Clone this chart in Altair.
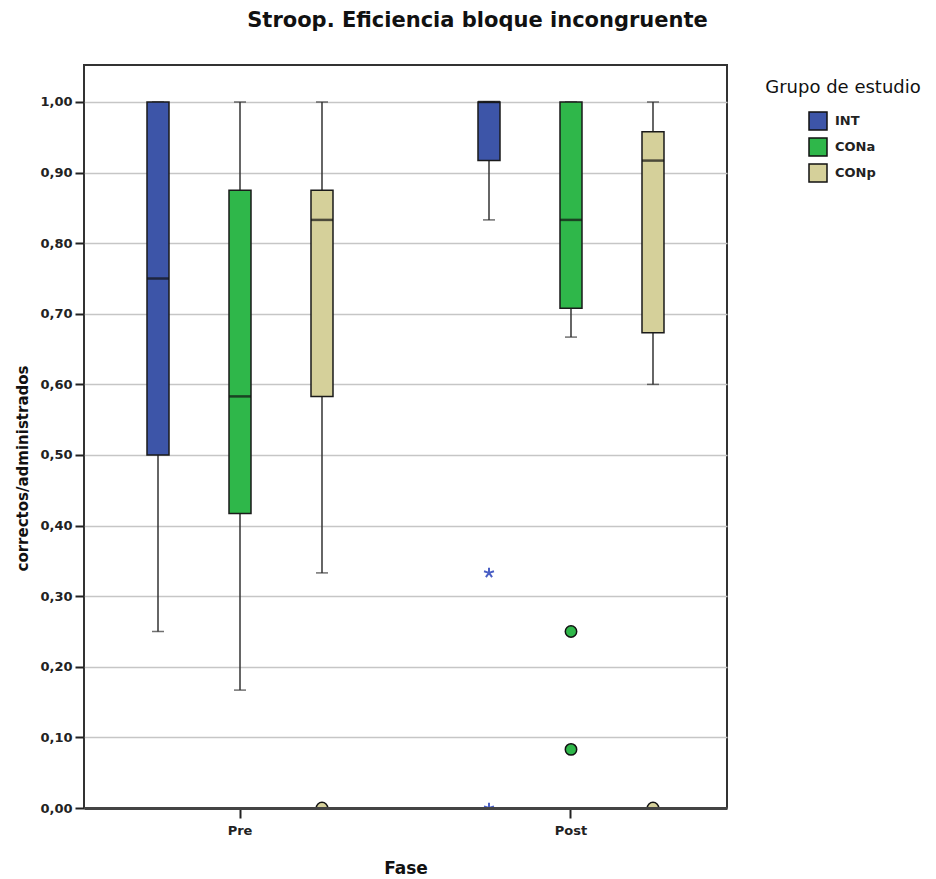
import altair as alt
import pandas as pd

# ---- data ----
fases = ["Pre", "Pre", "Pre", "Post", "Post", "Post"]
grupos = ["INT", "CONa", "CONp", "INT", "CONa", "CONp"]
mins = [0.25, 0.167, 0.333, 0.833, 0.667, 0.600]
q1s = [0.50, 0.417, 0.583, 0.917, 0.708, 0.673]
medianas = [0.75, 0.583, 0.833, 1.00, 0.833, 0.917]
q3s = [1.00, 0.875, 0.875, 1.00, 1.00, 0.958]
maxs = [1.00, 1.00, 1.00, 1.00, 1.00, 1.00]

out_fase = ["Pre", "Post", "Post", "Post", "Post", "Post"]
out_grupo = ["CONp", "INT", "INT", "CONa", "CONa", "CONp"]
out_valor = [0.0, 0.333, 0.0, 0.25, 0.083, 0.0]
out_tipo = ["circulo", "estrella", "estrella", "circulo", "circulo", "circulo"]

orden_fase = ["Pre", "Post"]
orden_grupo = ["INT", "CONa", "CONp"]
colores = ["#3d55a8", "#2fb74a", "#d5d09a"]
y_ticks = [0.0, 0.1, 0.2, 0.3, 0.4, 0.5, 0.6, 0.7, 0.8, 0.9, 1.0]

titulo = "Stroop. Eficiencia bloque incongruente"
titulo_y = "correctos/administrados"
titulo_x = "Fase"
titulo_leyenda = "Grupo de estudio"

box_df = pd.DataFrame({"Fase": fases, "Grupo": grupos, "min": mins, "q1": q1s,
                       "mediana": medianas, "q3": q3s, "max": maxs})
out_df = pd.DataFrame({"Fase": out_fase, "Grupo": out_grupo, "valor": out_valor, "tipo": out_tipo})

FONT = "DejaVu Sans"
W, H = 643, 743

x_enc = alt.X("Fase:N", sort=orden_fase,
              scale=alt.Scale(paddingInner=0.0574, paddingOuter=0),
              axis=alt.Axis(title=titulo_x, labelAngle=0, labelFont=FONT, labelFontWeight="bold",
                            labelFontSize=13, labelColor="#222", labelPadding=6,
                            tickSize=10, tickWidth=2, tickColor="#222",
                            domain=True, domainColor="#444", domainWidth=3, zindex=1,
                            grid=False,
                            titleFont=FONT, titleFontWeight="bold", titleFontSize=17,
                            titleColor="#111", titleY=60, titleBaseline="middle"))
xo = alt.XOffset("Grupo:N", sort=orden_grupo,
                 scale=alt.Scale(paddingInner=0, paddingOuter=0.4025))

y_scale = alt.Scale(domain=[0, 1.0524], nice=False, zero=False)
y_axis = alt.Axis(values=y_ticks, labelExpr="replace(format(datum.value, '.2f'), '.', ',')",
                  labelFont=FONT, labelFontWeight="bold", labelFontSize=13, labelColor="#222",
                  labelPadding=3, tickSize=9, tickWidth=2, tickColor="#222",
                  domain=False, grid=True, gridColor="#c6c6c6", gridWidth=1.5,
                  title=titulo_y, titleFont=FONT, titleFontWeight="bold", titleFontSize=15,
                  titleColor="#111", titleX=-62, titleY=403, titleBaseline="middle")

color_scale = alt.Scale(domain=orden_grupo, range=colores)

base = alt.Chart(box_df)

whisk_low = base.mark_rule(color="#333", strokeWidth=1.5).encode(
    x=x_enc, xOffset=xo, y=alt.Y("min:Q", scale=y_scale, axis=y_axis), y2="q1:Q")
whisk_high = base.mark_rule(color="#333", strokeWidth=1.5).encode(
    x=x_enc, xOffset=xo, y=alt.Y("q3:Q", scale=y_scale), y2="max:Q")
cap_low = base.mark_tick(size=12, thickness=1.5, color="#333").encode(
    x=x_enc, xOffset=xo, y=alt.Y("min:Q", scale=y_scale))
cap_high = base.mark_tick(size=12, thickness=1.5, color="#333").encode(
    x=x_enc, xOffset=xo, y=alt.Y("max:Q", scale=y_scale))

boxes = base.mark_bar(size=22, stroke="#1a1a1a", strokeWidth=1.5).encode(
    x=x_enc, xOffset=xo, y=alt.Y("q1:Q", scale=y_scale), y2="q3:Q",
    color=alt.Color("Grupo:N", sort=orden_grupo, scale=color_scale,
                    legend=alt.Legend(title=None, orient="none", legendX=724, legendY=46,
                                      symbolType="square", symbolSize=324,
                                      symbolStrokeColor="#111", symbolStrokeWidth=1.5,
                                      labelFont=FONT, labelFontWeight="bold", labelFontSize=13,
                                      labelColor="#222", labelOffset=7, rowPadding=2, padding=0)))
medians = base.mark_tick(size=22, thickness=2.5, color="#111").encode(
    x=x_enc, xOffset=xo, y=alt.Y("mediana:Q", scale=y_scale))

circles = alt.Chart(out_df).transform_filter(alt.datum.tipo == "circulo").mark_point(
    shape="circle", filled=True, size=130, stroke="#111", strokeWidth=1.5, opacity=1, clip=True
).encode(x=x_enc, xOffset=xo, y=alt.Y("valor:Q", scale=y_scale),
         fill=alt.Fill("Grupo:N", sort=orden_grupo, scale=color_scale, legend=None))

star_path = ("M0,0L0,-1M0,0L0.951,-0.309M0,0L0.588,0.809M0,0L-0.588,0.809M0,0L-0.951,-0.309")
stars = alt.Chart(out_df).transform_filter(alt.datum.tipo == "estrella").mark_point(
    shape=star_path, filled=False, size=110, stroke="#4a5fc4", strokeWidth=2, opacity=1, clip=True
).encode(x=x_enc, xOffset=xo, y=alt.Y("valor:Q", scale=y_scale))

leg_title = alt.Chart(pd.DataFrame({"t": [titulo_leyenda]})).mark_text(
    font=FONT, fontSize=18, color="#111", align="center", baseline="middle"
).encode(text="t:N", x=alt.value(843 - 84), y=alt.value(88 - 65))

chart = alt.layer(whisk_low, whisk_high, cap_low, cap_high, boxes, medians, circles, stars, leg_title
).resolve_scale(fill="independent").properties(
    width=W, height=H,
    title=alt.Title(titulo, font=FONT, fontSize=21, fontWeight="bold", color="#111",
                    anchor="middle", dx=72, offset=34),
    autosize=alt.AutoSizeParams(type="none"),
    padding={"left": 84, "top": 65, "right": 936 - 84 - W, "bottom": 879 - 65 - H},
).configure(background="white").configure_view(stroke="#333333", strokeWidth=2)

chart.save("out.html", embed_options={"renderer": "svg", "actions": False})
